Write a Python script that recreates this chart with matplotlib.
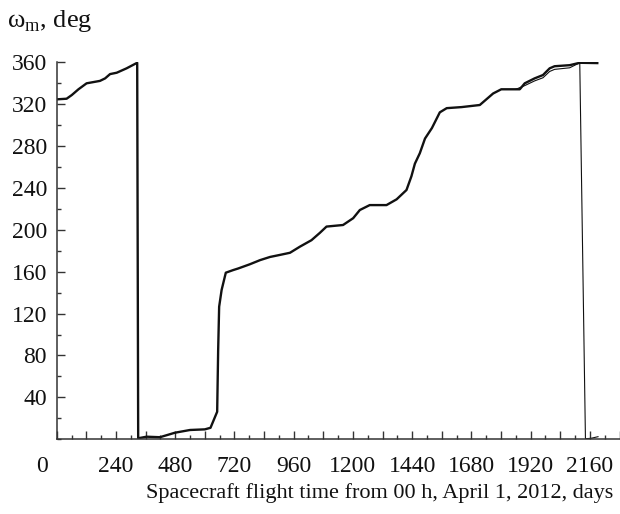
import matplotlib
matplotlib.use("Agg")
import matplotlib.pyplot as plt
from matplotlib.ticker import MultipleLocator

plt.rcParams['font.family'] = ['Liberation Serif', 'DejaVu Serif']
plt.rcParams['mathtext.fontset'] = 'custom'
plt.rcParams['mathtext.rm'] = 'Liberation Serif'

# main (thick) solution, wraps 360 -> 0 once
days = [0, 40, 61, 88, 121, 175, 196, 216, 243, 283, 326,
        330, 364, 418, 479, 540, 600, 623, 650, 654, 658, 668, 685, 715, 735,
        782, 824, 864, 905, 945, 985, 1032, 1066, 1093, 1160, 1201, 1228, 1268,
        1336, 1377, 1417, 1437, 1451, 1471, 1492, 1520, 1552, 1580, 1640, 1714,
        1768, 1801, 1876, 1896, 1936, 1970, 1997, 2017, 2078, 2119, 2190]
omega = [324.4, 325, 328.5, 334, 339.7, 342, 344.4, 348.5, 349.8, 354, 359.3,
         1, 2.5, 2, 6.3, 8.9, 9.5, 11, 26.3, 85, 126.5, 142.5, 159, 161.5, 163,
         167, 171, 174, 176, 178, 183.8, 190, 197, 203, 204.5, 211, 218.8, 223.5,
         223.5, 229, 237.9, 251, 263, 273, 287, 297, 312, 316, 317, 319,
         330, 334, 334, 339.7, 344.4, 347.6, 354, 356, 357, 359.3, 359]

# second (thin) solution, visible only near the end
days2 = [1860, 1896, 1936, 1970, 1997, 2017, 2078, 2119, 2142, 2165, 2193]
omega2 = [334, 337.5, 342, 345, 351, 353, 354.5, 359.3, 0.5, 1, 2.5]

xticks = list(range(0, 2281, 120))
xlabels = ['' if (t % 240 or t == 0) else str(t) for t in xticks]
yticks = list(range(40, 361, 40))

fig = plt.figure(figsize=(6.2, 5.14), dpi=100)
ax = fig.add_axes([0.0915, 0.1453, 0.9077, 0.734])

ax.plot(days, omega, color='#111111', lw=1.7)
ax.plot(days2, omega2, color='#111111', lw=0.8)

ax.set_xlim(0, 2280)
ax.set_ylim(0, 360)

ax.set_xticks(xticks)
ax.set_xticklabels(xlabels)
ax.xaxis.set_minor_locator(MultipleLocator(60))
ax.set_yticks(yticks)
ax.set_yticklabels([str(t) for t in yticks])
ax.yaxis.set_minor_locator(MultipleLocator(20))

for s in ['top', 'right']:
    ax.spines[s].set_visible(False)
for s in ['left', 'bottom']:
    ax.spines[s].set_color('#333333')
    ax.spines[s].set_linewidth(1.1)

ax.tick_params(which='major', direction='in', length=6, width=1, color='#333333',
               labelsize=17, colors='#111111')
ax.tick_params(which='minor', direction='in', length=3, width=1, color='#333333')
ax.tick_params(axis='x', which='major', pad=12)
ax.tick_params(axis='y', which='major', pad=7)

# the corner "0" sits left of the axis origin
fig.text(41.7 / 620, 1 - 467 / 514, '0', fontsize=17, ha='center', va='center', color='#111111')

ax.set_xlabel('Spacecraft flight time from 00 h, April 1, 2012, days', fontsize=16, color='#111111')
ax.xaxis.set_label_coords(0.574, -0.142)
ax.xaxis.label.set_va('center')

fig.text(7 / 620, 1 - 21 / 514, 'ω$_{\\rm m}$, deg', fontsize=19, ha='left', va='center', color='#111111')

fig.savefig('out.png', dpi=100)
